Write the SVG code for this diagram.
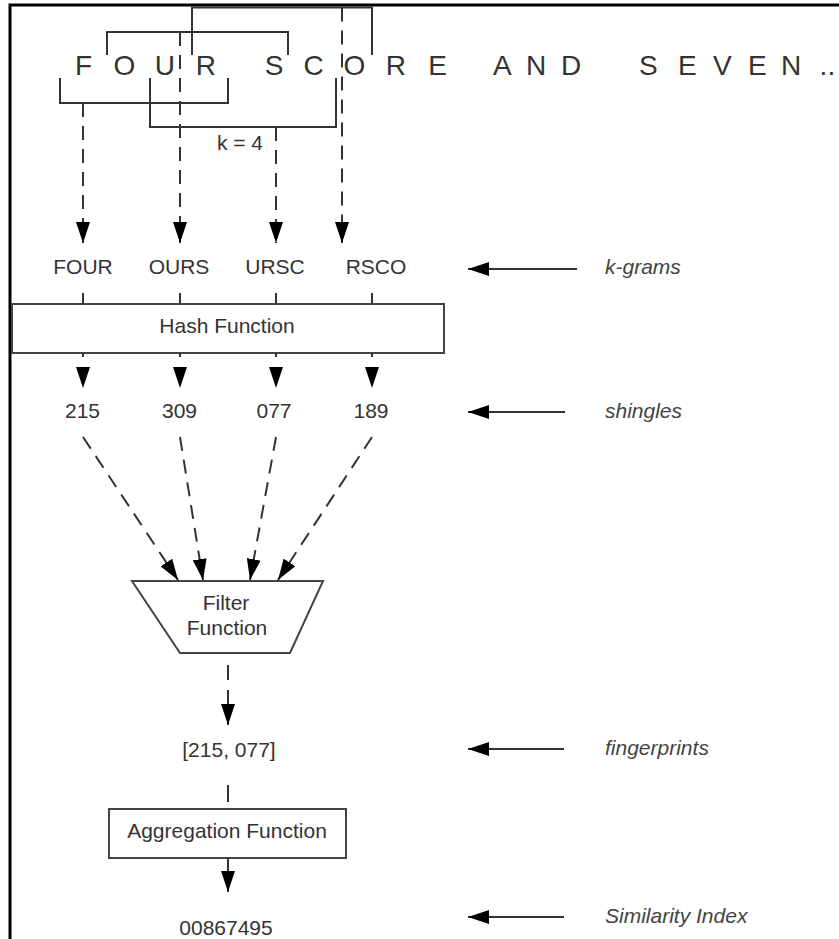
<svg xmlns="http://www.w3.org/2000/svg" width="839" height="939" viewBox="0 0 839 939">
  <style>
    text { font-family: "Liberation Sans", Arial, sans-serif; fill: #333; }
    .t { font-size: 21px; text-anchor: middle; }
    .lab { font-size: 21px; font-style: italic; fill: #444; }
    .big { font-size: 28px; fill: #333; }
    .box { fill: #fff; stroke: #444; stroke-width: 2; }
    .br { fill: none; stroke: #333; stroke-width: 2; }
    .dash { fill: none; stroke: #333; stroke-width: 2; stroke-dasharray: 14 9; }
    .solid { fill: none; stroke: #333; stroke-width: 2; }
    .frame { fill: none; stroke: #000; stroke-width: 3; }
  </style>
  <defs>
    <marker id="ah" viewBox="0 0 21 14" markerWidth="21" markerHeight="14" refX="21" refY="7" orient="auto" markerUnits="userSpaceOnUse">
      <path d="M0,0 L21,7 L0,14 z" fill="#000"/>
    </marker>
  </defs>

  <path class="frame" d="M10,939 V5 H839"/>

  <g id="sentence">
    <text class="big" y="75" x="75 113.6 154.8 195.8 225 264.7 303.6 343.6 385.8 428.3 460 493 526 561 600 639 678 713 748 781 819.6 827.6">FOUR SCORE AND SEVEN..</text>
  </g>

  <g id="brackets">
    <path class="br" d="M60,78 V103 H228 V78"/>
    <path class="br" d="M107,55 V32 H288 V55"/>
    <path class="br" d="M150,78 V127 H336 V78"/>
    <path class="br" d="M192,55 V7.5 H372 V55"/>
    <text class="t" x="240" y="150">k = 4</text>
  </g>

  <g id="kgrams">
    <text class="t" x="83" y="274">FOUR</text>
    <text class="t" x="179" y="274">OURS</text>
    <text class="t" x="275" y="274">URSC</text>
    <text class="t" x="376" y="274">RSCO</text>
  </g>

  <g id="hash">
    <rect class="box" x="12" y="304" width="432" height="49"/>
    <text class="t" x="227" y="333">Hash Function</text>
  </g>

  <g id="shingles">
    <text class="t" x="82.5" y="418">215</text>
    <text class="t" x="179.5" y="418">309</text>
    <text class="t" x="274" y="418">077</text>
    <text class="t" x="371" y="418">189</text>
  </g>

  <g id="filter">
    <path class="box" d="M132,581 H323 L290,653 H180 Z"/>
    <text class="t" x="226" y="610">Filter</text>
    <text class="t" x="227" y="635">Function</text>
  </g>

  <g id="fingerprints">
    <text class="t" x="229" y="757">[215, 077]</text>
  </g>

  <g id="aggregation">
    <rect class="box" x="109" y="809" width="237" height="49"/>
    <text class="t" x="227" y="838">Aggregation Function</text>
  </g>

  <g id="result">
    <text class="t" x="226" y="935">00867495</text>
  </g>

  <g id="labels">
    <text class="lab" x="605" y="274">k-grams</text>
    <text class="lab" x="605" y="418">shingles</text>
    <text class="lab" x="605" y="755">fingerprints</text>
    <text class="lab" x="605" y="923">Similarity Index</text>
  </g>

  <g id="connectors">
    <line class="dash" x1="83" y1="103" x2="83" y2="243" marker-end="url(#ah)"/>
    <line class="dash" x1="180" y1="32" x2="180" y2="243" marker-end="url(#ah)"/>
    <line class="dash" x1="276" y1="127" x2="276" y2="243" marker-end="url(#ah)"/>
    <line class="dash" x1="342" y1="7.5" x2="342" y2="243" marker-end="url(#ah)"/>

    <line class="solid" x1="83" y1="293" x2="83" y2="304"/>
    <line class="solid" x1="180" y1="293" x2="180" y2="304"/>
    <line class="solid" x1="276" y1="293" x2="276" y2="304"/>
    <line class="solid" x1="372" y1="293" x2="372" y2="304"/>

    <line class="dash" x1="83" y1="353" x2="83" y2="388" marker-end="url(#ah)" style="stroke-dasharray:4 10"/>
    <line class="dash" x1="180" y1="353" x2="180" y2="388" marker-end="url(#ah)" style="stroke-dasharray:4 10"/>
    <line class="dash" x1="276" y1="353" x2="276" y2="388" marker-end="url(#ah)" style="stroke-dasharray:4 10"/>
    <line class="dash" x1="372" y1="353" x2="372" y2="388" marker-end="url(#ah)" style="stroke-dasharray:4 10"/>

    <line class="dash" x1="83" y1="437" x2="178" y2="580" marker-end="url(#ah)"/>
    <line class="dash" x1="180" y1="437" x2="203" y2="580" marker-end="url(#ah)"/>
    <line class="dash" x1="276" y1="437" x2="250" y2="580" marker-end="url(#ah)"/>
    <line class="dash" x1="372" y1="437" x2="278" y2="580" marker-end="url(#ah)"/>

    <line class="dash" x1="228" y1="665" x2="228" y2="725" marker-end="url(#ah)" style="stroke-dasharray:15 10"/>
    <line class="solid" x1="228" y1="785" x2="228" y2="802"/>
    <line class="solid" x1="228" y1="858" x2="228" y2="892" marker-end="url(#ah)"/>

    <line class="solid" x1="577" y1="269" x2="468" y2="269" marker-end="url(#ah)"/>
    <line class="solid" x1="565" y1="412" x2="468" y2="412" marker-end="url(#ah)"/>
    <line class="solid" x1="564" y1="749" x2="468" y2="749" marker-end="url(#ah)"/>
    <line class="solid" x1="564" y1="917" x2="468" y2="917" marker-end="url(#ah)"/>
  </g>
</svg>
